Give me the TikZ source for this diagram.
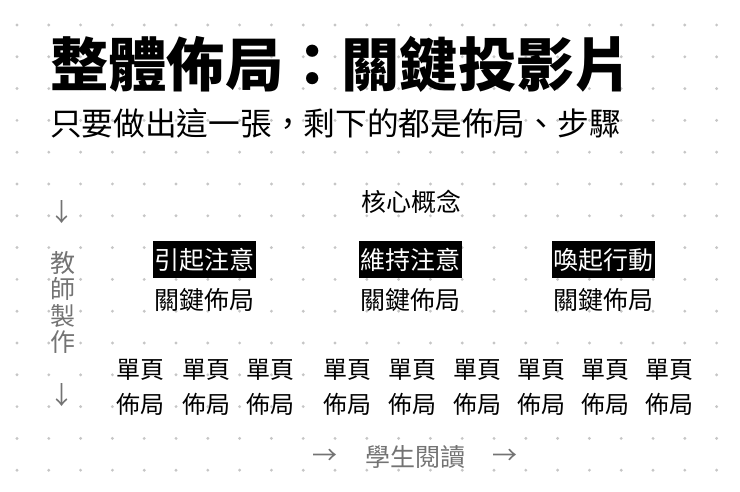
\documentclass[tikz,border=0pt]{standalone}
\usepackage{fontspec}
\setmainfont{Noto Sans CJK TC}
\usepackage{xcolor}
\usetikzlibrary{positioning}

\definecolor{dotgray}{HTML}{C6C6C6}
\definecolor{notegray}{HTML}{737373}

\begin{document}
\begin{tikzpicture}[
    x=1pt, y=-1pt,
    title/.style={anchor=west, inner sep=0, font=\bfseries\fontsize{58.3}{60}\selectfont},
    subtitle/.style={anchor=west, inner sep=0, font=\fontsize{31.7}{34}\selectfont},
    label/.style={inner sep=0, font=\fontsize{25}{28}\selectfont},
    keybox/.style={fill=black, text=white, inner sep=0, minimum width=103pt, minimum height=37pt, font=\fontsize{25}{28}\selectfont},
    page/.style={inner sep=0, align=center, font=\fontsize{24}{35}\selectfont},
    note/.style={inner sep=0, text=notegray, font=\fontsize{25}{26.5}\selectfont}
]
\useasboundingbox (0,0) rectangle (740,492);

% Dot grid
\foreach \i in {0,...,22}
  \foreach \j in {0,...,14}
    \fill[dotgray] (17+31.8*\i, 25+31.8*\j) circle (1.6pt);

% Title
\node[title] (title) at (50,64) {整體佈局：關鍵投影片};
\node[subtitle] (sub) at (50,123) {只要做出這一張，剩下的都是佈局、步驟};

% Core concept
\node[label] (core) at (411,202) {核心概念};

% Key slides
\node[keybox] (attn) at (204.5,260) {引起注意};
\node[keybox] (keep) at (410.5,260) {維持注意};
\node[keybox] (act) at (603.5,260) {喚起行動};
\node[label, below=9pt of attn] (attnkey) {關鍵佈局};
\node[label, below=9pt of keep] (keepkey) {關鍵佈局};
\node[label, below=9pt of act] (actkey) {關鍵佈局};

% Single pages
\foreach \x [count=\n] in {140,206,270,347,412,477,541,605,669}
  \node[page] (p\n) at (\x,387.5) {單頁\\佈局};

% Teacher side
\node[note] (tdown) at (62,212) {↓};
\node[note, align=center] (teacher) at (63,302.5) {教\\師\\製\\作};
\node[note] (tdown2) at (62,395) {↓};

% Student side
\node[note] (sread) at (415,457) {學生閱讀};
\node[note] (sleft) at (325,457) {→};
\node[note] (sright) at (505,457) {→};

\end{tikzpicture}
\end{document}
